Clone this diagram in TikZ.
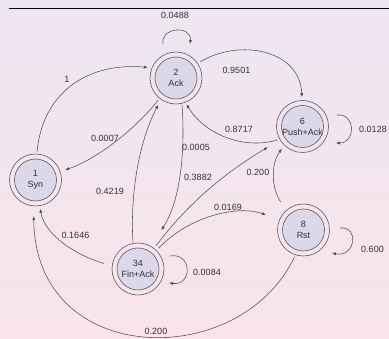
\documentclass[tikz,border=0pt]{standalone}
\usepackage{fontspec}
\setmainfont{Liberation Sans}
\usetikzlibrary{arrows.meta}
\definecolor{bgtop}{RGB}{238,230,242}
\definecolor{bgbot}{RGB}{249,228,234}
\definecolor{nodefill}{RGB}{221,215,234}
\definecolor{ringc}{RGB}{90,88,96}
\definecolor{edgec}{RGB}{78,78,84}
\definecolor{labc}{RGB}{50,50,55}
\begin{document}
\begin{tikzpicture}[x=1pt,y=-1pt,
  stnode/.style={circle, draw=ringc, line width=0.6pt, minimum size=52pt, inner sep=0pt,
    align=center, font=\fontsize{9}{11}\selectfont, text=labc,
    path picture={\draw[ringc, fill=nodefill, line width=0.6pt] (path picture bounding box.center) circle (21pt);}},
  conn/.style={draw=edgec, line width=0.55pt, -{Latex[length=4pt,width=3.2pt]}},
  lab/.style={font=\fontsize{9}{11}\selectfont, text=labc, inner sep=1pt}]
\useasboundingbox (0,0) rectangle (389,339);
\shade[top color=bgtop, bottom color=bgbot] (0,0) rectangle (389,339);
\coordinate (rl) at (9,8);
\coordinate (rr) at (389,8);
\draw[black, line width=0.9pt] (rl) -- (rr);

% states
\node[stnode] (n2) at (176,78) {2\\Ack};
\node[stnode] (n6) at (302.5,126.5) {6\\Push+Ack};
\node[stnode] (n1) at (35.5,180) {1\\Syn};
\node[stnode] (n34) at (138,269) {34\\Fin+Ack};
\node[stnode] (n8) at (303.5,230) {8\\Rst};

% transitions
\draw[conn, shorten <=2pt, shorten >=4pt] (n1.87) .. controls (42,95) and (85,62) .. (n2.157);
\draw[conn, shorten <=3pt, shorten >=3pt] (n2.34) .. controls (240,38) and (300,50) .. (n6.91);
\draw[conn, shorten <=2pt, shorten >=2pt] (n6.209) .. controls (245,150) and (205,135) .. (n2.291);
\draw[conn, shorten <=2pt, shorten >=5pt] (n2.231) .. controls (135,130) and (95,160) .. (n1.19);
\draw[conn, shorten <=1pt, shorten >=6pt] (n34.101) .. controls (130,190) and (140,140) .. (n2.235);
\draw[conn, shorten <=1pt, shorten >=19pt] (n2.283) .. controls (186,160) and (178,205) .. (n34.61);
\draw[conn, shorten <=3pt, shorten >=14pt] (n34.52) .. controls (188,203) and (226,172) .. (n6.211);
\draw[conn, shorten <=3pt, shorten >=14pt] (n34.45) .. controls (190,215) and (240,205) .. (n8.158);
\draw[conn, shorten <=10pt, shorten >=4pt] (n8.132) .. controls (270,185) and (272,162) .. (n6.226);
\draw[conn, shorten <=8pt, shorten >=3pt] (n34.173) .. controls (75,255) and (45,235) .. (n1.279);
\draw[conn, shorten <=2pt, shorten >=10pt] (n8.252) .. controls (240,372) and (35,368) .. (n1.266);

% self loops
\coordinate (a2) at (163,44);  \coordinate (b2) at (190,44);
\draw[conn] (a2) .. controls (160,27) and (192,25) .. (b2);
\coordinate (a6) at (337,115); \coordinate (b6) at (336,143);
\draw[conn] (a6) .. controls (356,113) and (356,143) .. (b6);
\coordinate (a34) at (170,256); \coordinate (b34) at (169,283);
\draw[conn] (a34) .. controls (192,252) and (193,286) .. (b34);
\coordinate (a8) at (340,228); \coordinate (b8) at (332,253);
\draw[conn] (a8) .. controls (360,226) and (355,258) .. (b8);

% labels
\node[lab] (t0488) at (175,15) {0.0488};
\node[lab] (t1) at (67,79) {1};
\node[lab] (t9501) at (236.5,70) {0.9501};
\node[lab] (t0007) at (105,138) {0.0007};
\node[lab] (t8717) at (239,129) {0.8717};
\node[lab] (t0005) at (196,147) {0.0005};
\node[lab] (t3882) at (198,177) {0.3882};
\node[lab] (t200a) at (258,172) {0.200};
\node[lab] (t0169) at (228,207) {0.0169};
\node[lab] (t4219) at (110,191) {0.4219};
\node[lab] (t0128) at (373,129) {0.0128};
\node[lab] (t1646) at (75.5,235) {0.1646};
\node[lab] (t0084) at (207,272) {0.0084};
\node[lab] (t600) at (372.5,249) {0.600};
\node[lab] (t200b) at (156,331) {0.200};
\end{tikzpicture}
\end{document}
